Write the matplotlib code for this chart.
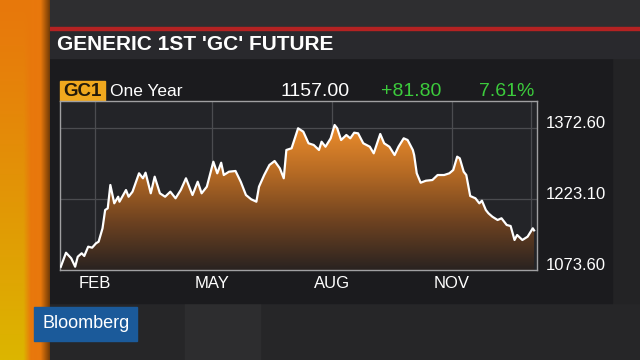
import matplotlib
matplotlib.use("Agg")
import matplotlib.pyplot as plt
import matplotlib.dates as mdates
import numpy as np
import pandas as pd
from matplotlib.colors import LinearSegmentedColormap, to_rgb
from matplotlib.patches import Rectangle

# data (GC1, one year)
dates = ["2016-01-06", "2016-01-10", "2016-01-14", "2016-01-17", "2016-01-19", "2016-01-22", "2016-01-24",
         "2016-01-27", "2016-01-30", "2016-02-02", "2016-02-04", "2016-02-07", "2016-02-09", "2016-02-11",
         "2016-02-13", "2016-02-16", "2016-02-19", "2016-02-20", "2016-02-25", "2016-02-27", "2016-03-01",
         "2016-03-06", "2016-03-09", "2016-03-11", "2016-03-15", "2016-03-18", "2016-03-22", "2016-03-26",
         "2016-03-30", "2016-04-03", "2016-04-07", "2016-04-11", "2016-04-16", "2016-04-20", "2016-04-23",
         "2016-04-27", "2016-05-02", "2016-05-05", "2016-05-08", "2016-05-10", "2016-05-14", "2016-05-19",
         "2016-05-23", "2016-05-27", "2016-05-31", "2016-06-04", "2016-06-06", "2016-06-10", "2016-06-14",
         "2016-06-18", "2016-06-22", "2016-06-25", "2016-06-27", "2016-07-01", "2016-07-06", "2016-07-10",
         "2016-07-14", "2016-07-18", "2016-07-22", "2016-07-24", "2016-07-27", "2016-07-31", "2016-08-03",
         "2016-08-05", "2016-08-08", "2016-08-12", "2016-08-15", "2016-08-18", "2016-08-21", "2016-08-25",
         "2016-08-30", "2016-09-02", "2016-09-07", "2016-09-10", "2016-09-14", "2016-09-18", "2016-09-21",
         "2016-09-25", "2016-09-28", "2016-10-02", "2016-10-03", "2016-10-05", "2016-10-08", "2016-10-12",
         "2016-10-17", "2016-10-21", "2016-10-26", "2016-10-30", "2016-11-02", "2016-11-05", "2016-11-07",
         "2016-11-10", "2016-11-12", "2016-11-15", "2016-11-19", "2016-11-22", "2016-11-24", "2016-11-27",
         "2016-11-29", "2016-12-02", "2016-12-06", "2016-12-09", "2016-12-13", "2016-12-16", "2016-12-19",
         "2016-12-21", "2016-12-25", "2016-12-29", "2017-01-02", "2017-01-03"]
prices = [1080.5, 1110.0, 1098.2, 1080.5, 1101.6, 1108.8, 1103.1, 1122.7, 1120.6, 1129.8,
          1133.2, 1161.4, 1199.9, 1203.5, 1252.6, 1214.0, 1227.9, 1217.4, 1242.0, 1227.9,
          1238.5, 1277.2, 1266.7, 1278.5, 1235.1, 1270.1, 1235.1, 1227.9, 1238.5, 1224.6,
          1242.0, 1266.7, 1231.5, 1259.5, 1235.1, 1249.0, 1301.6, 1277.2, 1299.5, 1273.6,
          1280.6, 1282.1, 1259.5, 1231.5, 1222.5, 1217.4, 1249.0, 1273.6, 1294.7, 1303.1,
          1287.7, 1266.7, 1326.3, 1329.9, 1372.0, 1364.8, 1340.4, 1336.8, 1326.3, 1343.7,
          1333.2, 1350.9, 1378.9, 1372.0, 1347.3, 1357.9, 1350.9, 1362.7, 1361.4, 1340.4,
          1333.2, 1319.3, 1360.0, 1340.4, 1333.2, 1315.7, 1333.2, 1350.9, 1347.3, 1326.3,
          1315.7, 1277.2, 1257.4, 1261.6, 1263.1, 1273.6, 1273.6, 1277.2, 1284.2, 1312.2,
          1308.8, 1280.6, 1273.6, 1229.4, 1224.6, 1214.0, 1219.5, 1199.9, 1193.0, 1185.8,
          1178.9, 1182.5, 1168.4, 1166.2, 1136.8, 1147.3, 1136.8, 1143.7, 1161.4, 1157.0]

y_ticks = [1073.60, 1223.10, 1372.60]
x_ticks = ["2016-02-01", "2016-05-01", "2016-08-01", "2016-11-01"]
x_labels = ["FEB", "MAY", "AUG", "NOV"]
extra_grid = ["2017-01-01"]
title = "GENERIC 1ST 'GC' FUTURE"
ticker = "GC1"
period = "One Year"
last_price = "1157.00"
change = "+81.80"
change_pct = "7.61%"

plt.rcParams['font.family'] = ['Liberation Sans', 'DejaVu Sans']

W, H = 640, 360
fig = plt.figure(figsize=(6.4, 3.6), dpi=100)
fig.patch.set_facecolor("#1c1c1f")

# background layer in pixel coordinates
bg = fig.add_axes([0, 0, 1, 1])
bg.set_xlim(0, W)
bg.set_ylim(H, 0)
bg.axis("off")

bg.add_patch(Rectangle((48, 0), W - 48, 28, color="#2e2e30"))
bg.add_patch(Rectangle((48, 303), W - 48, 57, color="#262628"))
bg.add_patch(Rectangle((185, 303), 75, 57, color="#2d2d2f"))
bg.add_patch(Rectangle((612, 58), 28, 245, color="#232325"))
bg.add_patch(Rectangle((48, 58), 564, 245, color="#1b1b1e"))
bg.add_patch(Rectangle((46, 29), W - 46, 29, color="#29292d"))
bg.add_patch(Rectangle((46, 27), W - 46, 2.5, color="#b42222"))

# orange / yellow strip on the left
sx = np.linspace(0, 1, 60)
sy = np.linspace(0, 1, 360)[:, None]
orange = np.array(to_rgb("#e8780c"))
yellow = np.array(to_rgb("#dcb600"))
mix = np.clip((0.62 - sx) / 0.15, 0, 1)[None, :]
t = (sy ** 1.2) * mix
strip = orange[None, None, :] * (1 - t[..., None]) + yellow[None, None, :] * t[..., None]
shade = np.clip((sx - 0.82) / 0.18, 0, 1)[None, :, None]
strip = strip * (1 - 0.5 * shade)
bg.imshow(strip, extent=(0, 50, H, 0), aspect="auto", zorder=1)

bg.text(57, 44, title, color="white", fontsize=15, fontweight="bold", va="center", ha="left")

# header row
bg.add_patch(Rectangle((59.5, 81), 45, 20, color="#f0a81e"))
bg.text(82, 91.5, ticker, color="#231a0a", fontsize=13.5, fontweight="bold", ha="center", va="center")
bg.text(110, 91.5, period, color="white", fontsize=12.5, ha="left", va="center")
bg.text(350, 91.5, last_price, color="white", fontsize=14, ha="right", va="center")
bg.text(441, 91.5, change, color="#3ccb3c", fontsize=14, ha="right", va="center")
bg.text(534, 91.5, change_pct, color="#3ccb3c", fontsize=14, ha="right", va="center")

# Bloomberg box
bg.add_patch(Rectangle((34, 307), 103, 34, color="#1b5a9a"))
bg.text(86, 324, "Bloomberg", color="white", fontsize=13, ha="center", va="center")

# chart
x0, x1, ytop, ybot = 59.5, 536.7, 101, 270
ax = fig.add_axes([x0 / W, 1 - ybot / H, (x1 - x0) / W, (ybot - ytop) / H])
ax.set_facecolor("#232428")

d = pd.to_datetime(dates)
xn = mdates.date2num(d)
ymin = 1073.6
ymax = 1073.6 + (ybot - ytop) * (149.5 / 71.0)
xmin = mdates.date2num(pd.Timestamp("2016-01-05"))
xmax = mdates.date2num(pd.Timestamp("2017-01-05"))
ax.set_xlim(xmin, xmax)
ax.set_ylim(ymin, ymax)

for g in x_ticks + extra_grid:
    ax.axvline(mdates.date2num(pd.Timestamp(g)), color="#4b4c50", lw=0.9, zorder=1)
for v in y_ticks[1:]:
    ax.axhline(v, color="#4b4c50", lw=0.9, zorder=1)

cmap = LinearSegmentedColormap.from_list("gold", ["#2a2320", "#6e4220", "#b56a24", "#ee8e2c"])
poly = ax.fill_between(xn, prices, ymin, color="none", lw=0)
grad = np.linspace(0, 1, 256)[:, None]
grad = np.clip(grad * (ymax - ymin) / (1380 - ymin), 0, 1)
im = ax.imshow(grad, cmap=cmap, aspect="auto", origin="lower",
               extent=(xmin, xmax, ymin, ymax), zorder=2, vmin=0, vmax=1)
im.set_clip_path(poly.get_paths()[0], transform=ax.transData)
ax.plot(xn, prices, color="white", lw=1.6, zorder=3)

ax.set_xticks([])
ax.set_yticks([])
for s in ax.spines.values():
    s.set_color("#a0a0a2")
    s.set_linewidth(1.0)

for v in y_ticks:
    ax.text(1.018, v + 9, f"{v:.2f}", transform=ax.get_yaxis_transform(), color="white",
            fontsize=12, ha="left", va="center")
for g, lab in zip(x_ticks, x_labels):
    ax.text(mdates.date2num(pd.Timestamp(g)), -0.078, lab, transform=ax.get_xaxis_transform(),
            color="white", fontsize=12, ha="center", va="center")

fig.savefig("out.png", dpi=100, facecolor=fig.get_facecolor())
